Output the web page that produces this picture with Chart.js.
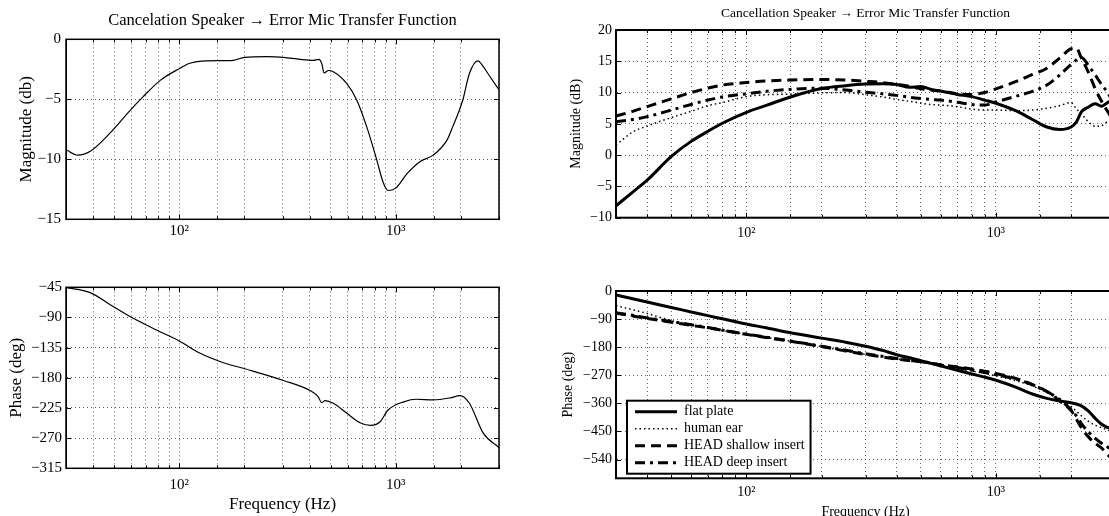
<!DOCTYPE html>
<html>
<head>
<meta charset="utf-8">
<title>Cancelation Speaker → Error Mic Transfer Function</title>
<script src="https://cdn.jsdelivr.net/npm/chart.js"></script>
<style>
  html, body { margin: 0; padding: 0; background: #fff; overflow: hidden; }
  body { position: relative; width: 1109px; height: 516px; }
  .panel { position: absolute; }
</style>
</head>
<body>
<div class="panel" style="left:0;top:0"><canvas id="magL" width="540" height="250"></canvas></div>
<div class="panel" style="left:0;top:250px"><canvas id="phL" width="540" height="266"></canvas></div>
<div class="panel" style="left:550px;top:0"><canvas id="magR" width="580" height="250"></canvas></div>
<div class="panel" style="left:550px;top:250px"><canvas id="phR" width="580" height="290"></canvas></div>
<script>
// left column: one measurement
var magFreq = [30, 34, 39, 48, 59.5, 68, 82, 100, 112, 134, 178, 200, 254, 303, 362, 416, 442, 455, 467, 489,
               515, 595, 662, 735, 816, 878, 922, 1000, 1128, 1293, 1490, 1726, 1833, 2038, 2190, 2395, 2542, 2723, 3000];
var magDb = [-9.2, -9.65, -9.3, -7.8, -5.9, -4.8, -3.4, -2.45, -2.0, -1.8, -1.75, -1.5, -1.45, -1.5, -1.67, -1.75, -1.67, -2.0, -2.8, -2.6,
             -2.7, -3.7, -5.1, -7.3, -10.0, -12.0, -12.6, -12.4, -11.2, -10.2, -9.65, -8.4, -7.3, -5.1, -2.85, -1.8, -2.3, -3.1, -4.2];

var phFreq = [30, 38.8, 48, 59.5, 79, 100, 125, 160, 201, 303, 402, 438, 455, 472, 515, 595, 685, 763, 847, 922,
              1098, 1245, 1490, 1782, 1984, 2190, 2542, 3000];
var phDeg = [-45.5, -53, -71, -89, -109, -125, -143.5, -157.5, -166.5, -184, -199, -208, -217, -214, -218, -233, -247, -251, -245.5, -228,
             -215.5, -212, -213, -210, -206.5, -218, -263, -284];

// right column: four fittings on a shared frequency grid
var rFreq = [30, 35, 40, 50, 60, 70, 80, 100, 120, 150, 200, 250, 300, 350, 400, 450, 500, 550, 600, 700,
             800, 900, 1000, 1200, 1400, 1600, 1800, 2000, 2100, 2200, 2350, 2500, 2650, 2800, 3000];

var flatMag = [-8.1, -5.9, -4.0, -0.2, 2.2, 3.8, 5.1, 6.85, 7.95, 9.3, 10.65, 11.1, 11.35, 11.4, 11.3, 10.85, 10.95, 10.5, 10.25, 9.7,
               9.35, 8.8, 8.3, 7.1, 5.7, 4.5, 4.1, 4.5, 5.3, 6.9, 7.7, 8.2, 7.8, 8.4, 9.0];
var earMag = [1.6, 3.7, 4.65, 6.0, 7.0, 7.9, 8.4, 9.35, 9.65, 9.75, 9.95, 10.0, 9.65, 9.3, 8.9, 8.6, 8.3, 8.1, 8.0, 7.75,
              7.35, 7.2, 7.2, 7.1, 7.2, 7.5, 7.9, 8.4, 7.4, 6.6, 5.3, 4.6, 4.7, 5.4, 6.2];
var shallowMag = [6.25, 7.0, 7.75, 9.0, 10.0, 10.7, 11.2, 11.6, 11.85, 12.0, 12.1, 12.0, 11.8, 11.6, 11.3, 11.0, 10.6, 10.4, 10.25, 9.8,
                  9.7, 10.0, 10.6, 11.75, 12.9, 13.9, 15.5, 17.0, 17.1, 15.5, 13.2, 10.6, 8.6, 7.0, 5.0];
var deepMag = [5.35, 5.7, 6.15, 7.2, 8.1, 8.8, 9.3, 9.8, 10.2, 10.5, 10.7, 10.4, 10.05, 9.8, 9.55, 9.25, 9.05, 8.9, 8.8, 8.45,
               8.1, 8.0, 8.5, 9.4, 10.2, 11.2, 12.8, 14.5, 15.2, 15.6, 14.3, 12.8, 11.3, 10.0, 8.0];

var flatPh = [-13, -25, -35, -53, -67, -79, -89, -106, -118, -134, -151, -164, -177, -190, -204, -214, -223, -232, -240, -254,
              -266, -276, -286, -308, -330, -344, -352, -358, -362, -368, -385, -408, -427, -437, -445];
var earPh = [-47, -60, -72, -95, -108, -118, -126, -139, -149, -161, -178, -192, -203, -211, -218, -223, -227, -232, -238, -248,
             -256, -264, -272, -287, -304, -325, -345, -370, -385, -400, -418, -430, -438, -445, -455];
var shallowPh = [-71, -80, -88, -100, -110, -118, -126, -139, -149, -161, -178, -192, -203, -211, -218, -223, -227, -232, -237, -243,
                 -250, -257, -264, -280, -300, -322, -352, -383, -410, -438, -468, -488, -503, -524, -545];
var deepPh = [-70, -78, -86, -98, -108, -117, -125, -138, -148, -160, -177, -190, -201, -209, -216, -222, -226, -231, -237, -245,
              -253, -261, -268, -282, -300, -322, -348, -380, -400, -425, -452, -472, -488, -500, -515];

var seriesNames = ['flat plate', 'human ear', 'HEAD shallow insert', 'HEAD deep insert'];

// tick labels
var magTicksL = [-15, -10, -5, 0];
var phTicksL = [-315, -270, -225, -180, -135, -90, -45];
var magTicksR = [-10, -5, 0, 5, 10, 15, 20];
var phTicksR = [-540, -450, -360, -270, -180, -90, 0];
var decadeLabels = { 100: '10\u00b2', 1000: '10\u00b3' };

var serif = '"Liberation Serif", "Times New Roman", serif';
Chart.defaults.font.family = serif;
Chart.defaults.color = '#000';

function pts(xs, ys) {
  return xs.map(function (x, i) { return { x: x, y: ys[i] }; });
}

function minus(v) {
  return String(v).replace('-', '\u2212');
}

var gridOpts = { color: 'rgba(0,0,0,0.6)', lineWidth: 1, drawTicks: false };
var borderOpts = { display: true, color: '#000', width: 1, dash: [1, 3] };

function freqAxis(h, pad, size, title) {
  return {
    type: 'logarithmic', min: 30, max: 3000,
    afterFit: function (s) { s.height = h; },
    grid: gridOpts, border: borderOpts,
    ticks: {
      autoSkip: false, maxRotation: 0, minRotation: 0, padding: pad, font: { size: size },
      callback: function (v) { return decadeLabels[Math.round(v)] || ''; }
    },
    title: title ? { display: true, text: title.text, font: { size: title.size }, padding: { top: 0, bottom: title.pb } }
                 : { display: false }
  };
}

function valAxis(o) {
  return {
    min: o.min, max: o.max,
    afterFit: function (s) { s.width = 66; },
    afterBuildTicks: function (s) { s.ticks = o.ticks.map(function (v) { return { value: v }; }); },
    grid: gridOpts, border: borderOpts,
    ticks: { padding: o.pad, font: { size: o.size }, callback: function (v) { return minus(v); } },
    title: { display: true, text: o.title, font: { size: o.tsize }, padding: { top: o.tpad, bottom: 0 } }
  };
}

// box round the plot with small inward ticks, like the original figure
var frame = {
  id: 'frame',
  afterDatasetsDraw: function (chart, args, opts) {
    var a = chart.chartArea, ctx = chart.ctx, x = chart.scales.x, y = chart.scales.y;
    ctx.save();
    ctx.strokeStyle = '#000';
    ctx.lineWidth = 1;
    ctx.beginPath();
    x.ticks.forEach(function (t) {
      var px = Math.round(x.getPixelForValue(t.value)) + 0.5;
      var len = t.label ? 5 : 3;
      ctx.moveTo(px, a.bottom); ctx.lineTo(px, a.bottom - len);
      ctx.moveTo(px, a.top); ctx.lineTo(px, a.top + len);
    });
    y.ticks.forEach(function (t) {
      var py = Math.round(y.getPixelForValue(t.value)) + 0.5;
      ctx.moveTo(a.left, py); ctx.lineTo(a.left + 5, py);
      ctx.moveTo(a.right, py); ctx.lineTo(a.right - 5, py);
    });
    ctx.stroke();
    ctx.lineWidth = opts.width || 1.5;
    ctx.strokeRect(a.left, a.top, a.right - a.left, a.bottom - a.top);
    ctx.restore();
  }
};

// legend sits inside the plot, lower left, in a white box
var legendBox = {
  id: 'legendBox',
  afterLayout: function (chart) {
    var a = chart.chartArea, lg = chart.legend;
    lg.left = a.left + 16;
    lg.top = a.top;
    lg.bottom = a.bottom - 5.6;
  },
  beforeDatasetsDraw: function (chart) {
    var lg = chart.legend, hb = lg.legendHitBoxes;
    if (!hb || !hb.length) return;
    var l = Infinity, t = Infinity, r = -Infinity, b = -Infinity;
    hb.forEach(function (h) {
      l = Math.min(l, h.left); t = Math.min(t, h.top);
      r = Math.max(r, h.left + h.width); b = Math.max(b, h.top + h.height);
    });
    var ctx = chart.ctx;
    ctx.save();
    ctx.fillStyle = '#fff';
    ctx.fillRect(l - 8, t - 4, r - l + 14, b - t + 8);
    ctx.lineWidth = 2;
    ctx.strokeStyle = '#000';
    ctx.strokeRect(l - 8, t - 4, r - l + 14, b - t + 8);
    ctx.restore();
    lg.draw();
  }
};

function thinLine(xs, ys) {
  return { data: pts(xs, ys), borderColor: '#000', borderWidth: 1.2, pointRadius: 0, cubicInterpolationMode: 'monotone', fill: false };
}

function fourLines(a, b, c, d) {
  var styles = [
    { w: 3, dash: [] },
    { w: 1.5, dash: [1.5, 3] },
    { w: 3, dash: [10, 6] },
    { w: 3, dash: [10, 5, 3, 5] }
  ];
  return [a, b, c, d].map(function (ys, i) {
    return {
      label: seriesNames[i], data: pts(rFreq, ys),
      borderColor: '#000', backgroundColor: '#000', borderWidth: styles[i].w, borderDash: styles[i].dash,
      pointRadius: 0, cubicInterpolationMode: 'monotone', fill: false
    };
  });
}

function baseOptions(pad) {
  return {
    responsive: false, animation: false, events: [],
    layout: { padding: pad },
    plugins: { legend: { display: false }, tooltip: { enabled: false }, title: { display: false } }
  };
}

// top left: magnitude
var o1 = baseOptions({ left: 0, right: 41, top: 0, bottom: 0 });
o1.plugins.title = {
  display: true, fullSize: false, text: 'Cancelation Speaker \u2192 Error Mic Transfer Function',
  font: { size: 16.5, weight: 'normal' }, padding: { top: 11, bottom: 8.5 }
};
o1.plugins.frame = { width: 1.5 };
o1.scales = {
  x: freqAxis(30.7, 3, 15),
  y: valAxis({ min: -15, max: 0, ticks: magTicksL, pad: 5, size: 15, title: 'Magnitude (db)', tsize: 17, tpad: 16.5 })
};
new Chart(document.getElementById('magL'), {
  type: 'line', data: { datasets: [thinLine(magFreq, magDb)] }, options: o1, plugins: [frame]
});

// bottom left: phase
var o2 = baseOptions({ left: 0, right: 41, top: 37.3, bottom: 0 });
o2.plugins.frame = { width: 1.5 };
o2.scales = {
  x: freqAxis(47.7, 8, 15, { text: 'Frequency (Hz)', size: 17, pb: 1 }),
  y: valAxis({ min: -315, max: -45, ticks: phTicksL, pad: 4, size: 15, title: 'Phase (deg)', tsize: 17, tpad: 6.5 })
};
new Chart(document.getElementById('phL'), {
  type: 'line', data: { datasets: [thinLine(phFreq, phDeg)] }, options: o2, plugins: [frame]
});

// top right: magnitude, four cases
var o3 = baseOptions({ left: 0, right: 15, top: 0, bottom: 0 });
o3.plugins.title = {
  display: true, fullSize: false, text: 'Cancellation Speaker \u2192 Error Mic Transfer Function',
  font: { size: 13.5, weight: 'normal' }, padding: { top: 5, bottom: 8.8 }
};
o3.plugins.frame = { width: 2 };
o3.scales = {
  x: freqAxis(32.3, 7, 14),
  y: valAxis({ min: -10, max: 20, ticks: magTicksR, pad: 4, size: 14, title: 'Magnitude (dB)', tsize: 14, tpad: 18.3 })
};
new Chart(document.getElementById('magR'), {
  type: 'line', data: { datasets: fourLines(flatMag, earMag, shallowMag, deepMag) }, options: o3, plugins: [frame]
});

// bottom right: phase, four cases, with legend
var o4 = baseOptions({ left: 0, right: 15, top: 41, bottom: 0 });
o4.plugins.legend = {
  display: true, position: 'chartArea', align: 'end',
  labels: {
    usePointStyle: true, pointStyle: 'line', pointStyleWidth: 42, font: { size: 14 }, padding: 3, color: '#000',
    generateLabels: function (chart) {
      var items = Chart.defaults.plugins.legend.labels.generateLabels(chart);
      items.forEach(function (it) {
        var ds = chart.data.datasets[it.datasetIndex];
        it.lineDash = ds.borderDash;
        it.lineWidth = ds.borderWidth;
        it.strokeStyle = '#000';
        it.pointStyle = 'line';
      });
      return items;
    }
  }
};
o4.plugins.frame = { width: 2 };
o4.scales = {
  x: freqAxis(61.7, 6, 14, { text: 'Frequency (Hz)', size: 14, pb: 19.6 }),
  y: valAxis({ min: -600, max: 0, ticks: phTicksR, pad: 4, size: 14, title: 'Phase (deg)', tsize: 14, tpad: 10 })
};
new Chart(document.getElementById('phR'), {
  type: 'line', data: { datasets: fourLines(flatPh, earPh, shallowPh, deepPh) }, options: o4, plugins: [legendBox, frame]
});
</script>
</body>
</html>
